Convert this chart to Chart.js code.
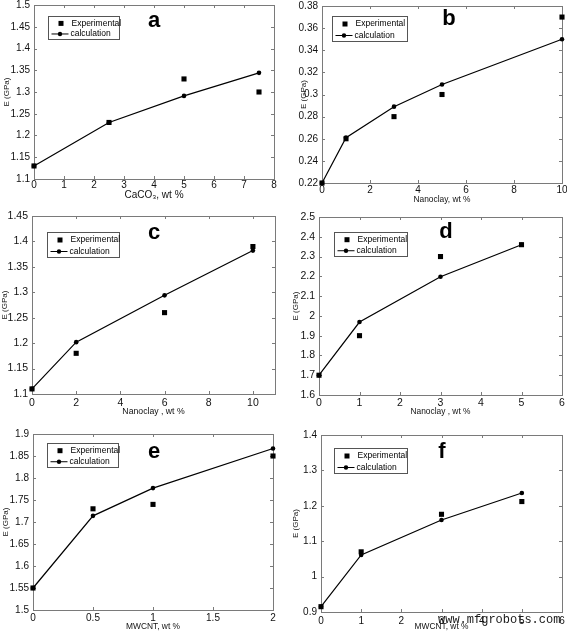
<!DOCTYPE html>
<html>
<head>
<meta charset="utf-8">
<script src="https://cdn.jsdelivr.net/npm/chart.js@4.4.1/dist/chart.umd.min.js"></script>
<style>
  html, body { margin: 0; padding: 0; background: #fff; }
  body { width: 567px; height: 633px; position: relative; overflow: hidden; }
  .cell { position: absolute; }
  #mark {
    position: absolute; left: 438px; top: 613px;
    font-family: "Liberation Mono", "DejaVu Sans Mono", monospace;
    font-size: 12px; color: #1a1a1a; white-space: nowrap;
  }
</style>
</head>
<body>
<div class="cell" id="cellA"><canvas id="chartA"></canvas></div>
<div class="cell" id="cellB"><canvas id="chartB"></canvas></div>
<div class="cell" id="cellC"><canvas id="chartC"></canvas></div>
<div class="cell" id="cellD"><canvas id="chartD"></canvas></div>
<div class="cell" id="cellE"><canvas id="chartE"></canvas></div>
<div class="cell" id="cellF"><canvas id="chartF"></canvas></div>
<div id="mark">www.mfgrobots.com</div>
<script>
// Values
const aX = [0, 2.5, 5, 7.5];
const aExp = [1.13, 1.23, 1.33, 1.30];
const aCalc = [1.13, 1.23, 1.291, 1.344];

const bX = [0, 1, 3, 5, 10];
const bExp = [0.22, 0.26, 0.28, 0.30, 0.37];
const bCalc = [0.22, 0.261, 0.289, 0.309, 0.35];

const cX = [0, 2, 6, 10];
const cExp = [1.11, 1.18, 1.26, 1.39];
const cCalc = [1.11, 1.202, 1.294, 1.382];

const dX = [0, 1, 3, 5];
const dExp = [1.70, 1.90, 2.30, 2.36];
const dCalc = [1.70, 1.969, 2.198, 2.36];

const eX = [0, 0.5, 1, 2];
const eExp = [1.55, 1.73, 1.74, 1.85];
const eCalc = [1.55, 1.714, 1.777, 1.867];

const fX = [0, 1, 3, 5];
const fExp = [0.915, 1.07, 1.176, 1.212];
const fCalc = [0.915, 1.061, 1.16, 1.236];

const legendLabels = ['Experimental', 'calculation'];
const yTitle = 'E (GPa)';

// layout of each panel (pixel positions)
const panels = [
  { id: 'A', letter: 'a', x: aX, exp: aExp, calc: aCalc, xTitle: 'CaCO\u2083, wt %',
    xMin: 0, xMax: 8, xStep: 1, yMin: 1.1, yMax: 1.5, yStep: 0.05,
    cell: [0, 0, 283, 210], area: [34, 5, 274, 179], xTitleY: 195.5, xTitleSize: 10, yTitleX: 7,
    xPad: 0, tickSize: 10, legend: [14, 11, 71, 23], letterPos: [154, 21] },
  { id: 'B', letter: 'b', x: bX, exp: bExp, calc: bCalc, xTitle: 'Nanoclay, wt %',
    xMin: 0, xMax: 10, xStep: 2, yMin: 0.22, yMax: 0.38, yStep: 0.02,
    cell: [283, 0, 284, 210], area: [322, 6, 562, 183], xTitleY: 199.5, xTitleSize: 8.4, yTitleX: 304,
    xPad: 1, tickSize: 10, legend: [10, 10, 75, 25], letterPos: [449, 19] },
  { id: 'C', letter: 'c', x: cX, exp: cExp, calc: cCalc, xTitle: 'Nanoclay , wt %',
    xMin: 0, xMax: 11, xStep: 2, yMin: 1.1, yMax: 1.45, yStep: 0.05,
    cell: [0, 210, 283, 210], area: [32, 216, 275, 394], xTitleY: 412, xTitleSize: 8.7, yTitleX: 5,
    xPad: 3, tickSize: 10.5, legend: [15, 16, 72, 25], letterPos: [154, 233] },
  { id: 'D', letter: 'd', x: dX, exp: dExp, calc: dCalc, xTitle: 'Nanoclay , wt %',
    xMin: 0, xMax: 6, xStep: 1, yMin: 1.6, yMax: 2.5, yStep: 0.1,
    cell: [283, 210, 284, 210], area: [319, 217, 562, 395], xTitleY: 412, xTitleSize: 8.4, yTitleX: 296,
    xPad: 2, tickSize: 10.5, legend: [15, 15, 73, 24], letterPos: [446, 232] },
  { id: 'E', letter: 'e', x: eX, exp: eExp, calc: eCalc, xTitle: 'MWCNT, wt %',
    xMin: 0, xMax: 2, xStep: 0.5, yMin: 1.5, yMax: 1.9, yStep: 0.05,
    cell: [0, 420, 283, 213], area: [33, 434, 273, 610], xTitleY: 627, xTitleSize: 8.4, yTitleX: 6,
    xPad: 2, tickSize: 10, legend: [14, 9, 71, 24], letterPos: [154, 452] },
  { id: 'F', letter: 'f', x: fX, exp: fExp, calc: fCalc, xTitle: 'MWCNT, wt %',
    xMin: 0, xMax: 6, xStep: 1, yMin: 0.9, yMax: 1.4, yStep: 0.1,
    cell: [283, 420, 284, 213], area: [321, 435, 562, 612], xTitleY: 627, xTitleSize: 8.4, yTitleX: 296,
    xPad: 3, tickSize: 10, legend: [13, 13, 73, 25], letterPos: [442, 452] }
];

const FONT = '"Liberation Sans", Arial, sans-serif';

// MATLAB style box with inward ticks on all four sides
const framePlugin = {
  id: 'frame',
  beforeDatasetsDraw(chart) {
    const { ctx, chartArea: a, scales } = chart;
    ctx.save();
    ctx.strokeStyle = '#7a7a7a';
    ctx.lineWidth = 1;
    ctx.beginPath();
    scales.x.ticks.forEach(t => {
      const px = Math.round(scales.x.getPixelForValue(t.value)) + 0.5;
      ctx.moveTo(px, a.bottom); ctx.lineTo(px, a.bottom - 3);
      ctx.moveTo(px, a.top); ctx.lineTo(px, a.top + 3);
    });
    scales.y.ticks.forEach(t => {
      const py = Math.round(scales.y.getPixelForValue(t.value)) + 0.5;
      ctx.moveTo(a.left, py); ctx.lineTo(a.left + 3, py);
      ctx.moveTo(a.right, py); ctx.lineTo(a.right - 3, py);
    });
    ctx.stroke();
    ctx.strokeRect(Math.round(a.left) + 0.5, Math.round(a.top) + 0.5,
      Math.round(a.right - a.left), Math.round(a.bottom - a.top));
    ctx.restore();
  },
  afterDraw(chart, args, opts) {
    const { ctx, chartArea: a } = chart;
    const [dx, dy, w, h] = opts.legend;
    const bx = Math.round(a.left + dx) + 0.5, by = Math.round(a.top + dy) + 0.5;
    ctx.save();
    ctx.fillStyle = '#fff';
    ctx.fillRect(bx, by, w, h);
    ctx.strokeStyle = '#555';
    ctx.lineWidth = 1;
    ctx.strokeRect(bx, by, w, h);
    const r1 = by + h * 0.3, r2 = by + h * 0.76;
    ctx.fillStyle = '#000';
    ctx.fillRect(bx + 10, r1 - 2.5, 5, 5);
    ctx.strokeStyle = '#000';
    ctx.beginPath();
    ctx.moveTo(bx + 3, r2); ctx.lineTo(bx + 20, r2);
    ctx.stroke();
    ctx.beginPath();
    ctx.arc(bx + 11.5, r2, 2.2, 0, Math.PI * 2);
    ctx.fill();
    ctx.font = '8.5px ' + FONT;
    ctx.textBaseline = 'middle';
    ctx.fillText(legendLabels[0], bx + 23, r1);
    ctx.fillText(legendLabels[1], bx + 22, r2);
    // panel letter
    const cellLeft = opts.cell[0], cellTop = opts.cell[1];
    ctx.font = 'bold 22px ' + FONT;
    ctx.textAlign = 'center';
    ctx.fillText(opts.letter, opts.letterPos[0] - cellLeft, opts.letterPos[1] - cellTop);
    ctx.restore();
  }
};

panels.forEach(p => {
  const [cx, cy, cw, ch] = p.cell;
  const [l, t, r, b] = p.area;
  const cell = document.getElementById('cell' + p.id);
  cell.style.left = cx + 'px';
  cell.style.top = cy + 'px';
  cell.style.width = cw + 'px';
  cell.style.height = ch + 'px';

  const yTitleSize = 8;
  const yWidth = l - cx;
  const xHeight = p.xTitleY - b + p.xTitleSize * 0.6;
  const yTitlePad = p.yTitleX - cx - yTitleSize * 0.6;

  const toPts = vals => p.x.map((x, i) => ({ x: x, y: vals[i] }));

  new Chart(document.getElementById('chart' + p.id), {
    type: 'scatter',
    data: {
      datasets: [
        {
          label: legendLabels[1],
          data: toPts(p.calc),
          showLine: true,
          borderColor: '#000',
          borderWidth: 1.2,
          backgroundColor: '#000',
          pointStyle: 'circle',
          pointRadius: 2.3,
          pointBorderWidth: 0,
          clip: false
        },
        {
          label: legendLabels[0],
          data: toPts(p.exp),
          showLine: false,
          backgroundColor: '#000',
          borderColor: '#000',
          pointStyle: 'rect',
          pointRadius: 3.6,
          pointBorderWidth: 0,
          clip: false
        }
      ]
    },
    options: {
      responsive: true,
      maintainAspectRatio: false,
      animation: false,
      events: [],
      layout: {
        padding: { left: 0, top: t - cy, right: cx + cw - r, bottom: Math.max(0, cy + ch - b - xHeight) }
      },
      plugins: {
        legend: { display: false },
        tooltip: { enabled: false },
        frame: { legend: p.legend, letter: p.letter, letterPos: p.letterPos, cell: p.cell }
      },
      scales: {
        x: {
          type: 'linear',
          min: p.xMin,
          max: p.xMax,
          bounds: 'data',
          grid: { display: false, drawTicks: false },
          border: { display: false },
          ticks: {
            stepSize: p.xStep,
            includeBounds: false,
            maxRotation: 0,
            autoSkip: false,
            padding: p.xPad,
            color: '#111',
            font: { family: FONT, size: p.tickSize },
            callback: v => String(+v.toFixed(3))
          },
          title: {
            display: true,
            text: p.xTitle,
            color: '#111',
            padding: 0,
            font: { family: FONT, size: p.xTitleSize }
          },
          // keep only whole steps (panel c runs to 11 but is labelled to 10)
          afterBuildTicks: s => {
            s.ticks = s.ticks.filter(tk => {
              const k = tk.value / p.xStep;
              return Math.abs(k - Math.round(k)) < 1e-6;
            });
          },
          afterFit: s => { s.height = xHeight; s.paddingLeft = 0; s.paddingRight = 0; }
        },
        y: {
          type: 'linear',
          min: p.yMin,
          max: p.yMax,
          bounds: 'data',
          grid: { display: false, drawTicks: false },
          border: { display: false },
          ticks: {
            stepSize: p.yStep,
            autoSkip: false,
            padding: 4,
            color: '#111',
            font: { family: FONT, size: p.tickSize },
            callback: v => String(+v.toFixed(3))
          },
          title: {
            display: true,
            text: yTitle,
            color: '#111',
            padding: { top: yTitlePad, bottom: 0 },
            font: { family: FONT, size: yTitleSize }
          },
          afterFit: s => { s.width = yWidth; s.paddingTop = 0; s.paddingBottom = 0; }
        }
      }
    },
    plugins: [framePlugin]
  });
});
</script>
</body>
</html>
